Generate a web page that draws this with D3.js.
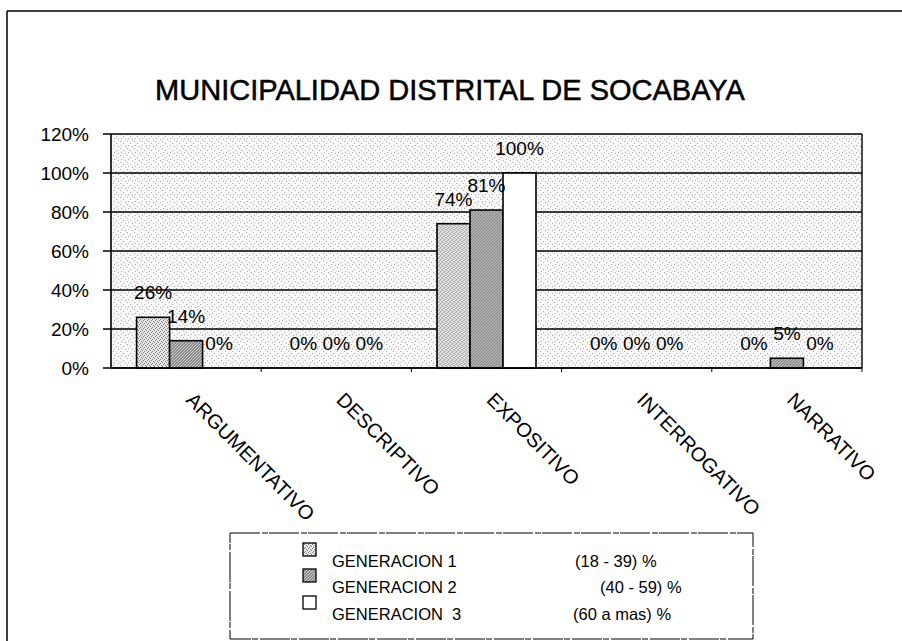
<!DOCTYPE html>
<html>
<head>
<meta charset="utf-8">
<script src="https://cdn.jsdelivr.net/npm/d3@7"></script>
<style>
  html, body { margin: 0; padding: 0; background: #fff; }
  svg { display: block; }
  text { font-family: "Liberation Sans", Arial, sans-serif; fill: #000; }
</style>
</head>
<body>
<svg id="chart" width="902" height="641"></svg>
<script>
const title = "MUNICIPALIDAD DISTRITAL DE SOCABAYA";
const categories = ["ARGUMENTATIVO", "DESCRIPTIVO", "EXPOSITIVO", "INTERROGATIVO", "NARRATIVO"];
const seriesNames = ["GENERACION 1", "GENERACION 2", "GENERACION  3"];
const seriesRanges = ["(18 - 39) %", "(40 - 59) %", "(60 a mas) %"];
const gen1 = [0.26, 0.00, 0.74, 0.00, 0.00];
const gen2 = [0.14, 0.00, 0.81, 0.00, 0.05];
const gen3 = [0.00, 0.00, 1.00, 0.00, 0.00];
const yTicks = [0, 0.2, 0.4, 0.6, 0.8, 1.0, 1.2];

const seriesValues = [gen1, gen2, gen3];
const svg = d3.select("#chart");

// patterns
const defs = svg.append("defs");
function makePattern(id, size, base, dots, dotColor) {
  const p = defs.append("pattern").attr("id", id).attr("patternUnits", "userSpaceOnUse")
    .attr("width", size).attr("height", size);
  p.append("rect").attr("width", size).attr("height", size).attr("fill", base);
  dots.forEach(([dx, dy]) => p.append("rect").attr("x", dx).attr("y", dy)
    .attr("width", 1).attr("height", 1).attr("fill", dotColor));
}
makePattern("bgPat", 7, "#f8f8f8", [[1,1],[4,3],[2,5],[6,6]], "#a8a8a8");
makePattern("g1Pat", 4, "#e6e6e6", [[0,0],[2,1],[1,3],[3,2]], "#808080");
makePattern("g2Pat", 3, "#8a8a8a", [[0,0],[2,1],[1,2]], "#cfcfcf");
const fills = ["url(#g1Pat)", "url(#g2Pat)", "#ffffff"];

// outer frame
svg.append("line").attr("x1", 7).attr("x2", 902).attr("y1", 11).attr("y2", 11)
  .attr("stroke", "#000").attr("stroke-width", 1.5);
svg.append("line").attr("x1", 7).attr("x2", 7).attr("y1", 11).attr("y2", 641)
  .attr("stroke", "#000").attr("stroke-width", 1.5);

// title
svg.append("text").attr("x", 450).attr("y", 100).attr("text-anchor", "middle")
  .attr("font-size", 29).attr("stroke", "#000").attr("stroke-width", 0.5).text(title);

const pLeft = 111, pRight = 862, pTop = 134, pBottom = 368;
const x0 = d3.scaleBand().domain(categories).range([pLeft, pRight]).paddingInner(0).paddingOuter(0);
const x1 = d3.scaleBand().domain(d3.range(3)).range([0, x0.bandwidth()]).paddingInner(0).paddingOuter(0.776);
const y = d3.scaleLinear().domain([0, 1.2]).range([pBottom, pTop]);

// plot background
svg.append("rect").attr("x", pLeft).attr("y", pTop).attr("width", pRight - pLeft).attr("height", pBottom - pTop)
  .attr("fill", "url(#bgPat)");

// gridlines
svg.append("g").selectAll("line").data(yTicks).join("line")
  .attr("x1", pLeft - 8).attr("x2", pRight).attr("y1", d => y(d)).attr("y2", d => y(d))
  .attr("stroke", "#000").attr("stroke-width", 1.4);

// plot border
svg.append("line").attr("x1", pRight).attr("x2", pRight).attr("y1", pTop).attr("y2", pBottom)
  .attr("stroke", "#000").attr("stroke-width", 1.4);
svg.append("line").attr("x1", pLeft).attr("x2", pLeft).attr("y1", pTop).attr("y2", pBottom)
  .attr("stroke", "#000").attr("stroke-width", 1.6);

// y labels
const yAxis = d3.axisLeft(y).tickValues(yTicks).tickFormat(d3.format(".0%")).tickSize(0).tickPadding(22);
const yg = svg.append("g").attr("transform", `translate(${pLeft},0)`).call(yAxis);
yg.select(".domain").remove();
yg.selectAll("text").attr("font-size", 19).attr("font-family", "Liberation Sans, Arial, sans-serif").attr("fill", "#000");

// x axis ticks
svg.append("g").selectAll("line").data(categories.slice(1).concat(["__end"])).join("line")
  .attr("x1", d => d === "__end" ? pRight : x0(d)).attr("x2", d => d === "__end" ? pRight : x0(d))
  .attr("y1", pBottom).attr("y2", pBottom + 4).attr("stroke", "#000").attr("stroke-width", 1);

// bars
const groups = svg.append("g").selectAll("g").data(categories).join("g")
  .attr("transform", d => `translate(${x0(d)},0)`);
groups.selectAll("rect").data((c, i) => seriesValues.map((s, k) => ({k, v: s[i]}))).join("rect")
  .attr("x", d => x1(d.k)).attr("width", x1.bandwidth())
  .attr("y", d => y(d.v)).attr("height", d => pBottom - y(d.v))
  .attr("fill", d => fills[d.k]).attr("stroke", "#000").attr("stroke-width", d => d.v > 0 ? 1.6 : 0);

// bottom axis line
svg.append("line").attr("x1", pLeft).attr("x2", pRight).attr("y1", pBottom).attr("y2", pBottom)
  .attr("stroke", "#000").attr("stroke-width", 1.6);

// value labels
groups.selectAll("text").data((c, i) => seriesValues.map((s, k) => ({k, v: s[i]}))).join("text")
  .attr("x", d => x1(d.k) + x1.bandwidth() / 2).attr("y", d => y(d.v) - 18)
  .attr("text-anchor", "middle").attr("font-size", 19)
  .text(d => d3.format(".0%")(d.v));

// category labels (rotated)
svg.append("g").selectAll("text").data(categories).join("text")
  .attr("transform", d => `translate(${x0(d) + x0.bandwidth() / 2 - 1},401) rotate(45)`)
  .attr("font-size", 20).text(d => d);

// legend
svg.append("rect").attr("x", 230).attr("y", 533).attr("width", 523).attr("height", 106)
  .attr("fill", "#fff").attr("stroke", "#000").attr("stroke-width", 1).attr("stroke-dasharray", "30,2,6,1");
const legBase = [567, 593, 620];
const rangeX = [575, 600, 573];
const lg = svg.append("g").selectAll("g").data(seriesNames).join("g");
lg.append("rect").attr("x", 303).attr("y", (d, i) => legBase[i] - 24).attr("width", 13).attr("height", 13)
  .attr("fill", (d, i) => fills[i]).attr("stroke", "#000").attr("stroke-width", 1.3);
lg.append("text").attr("x", 332).attr("y", (d, i) => legBase[i]).attr("font-size", 16.5)
  .style("white-space", "pre").text(d => d);
lg.append("text").attr("x", (d, i) => rangeX[i]).attr("y", (d, i) => legBase[i]).attr("font-size", 16.5)
  .text((d, i) => seriesRanges[i]);
</script>
</body>
</html>
